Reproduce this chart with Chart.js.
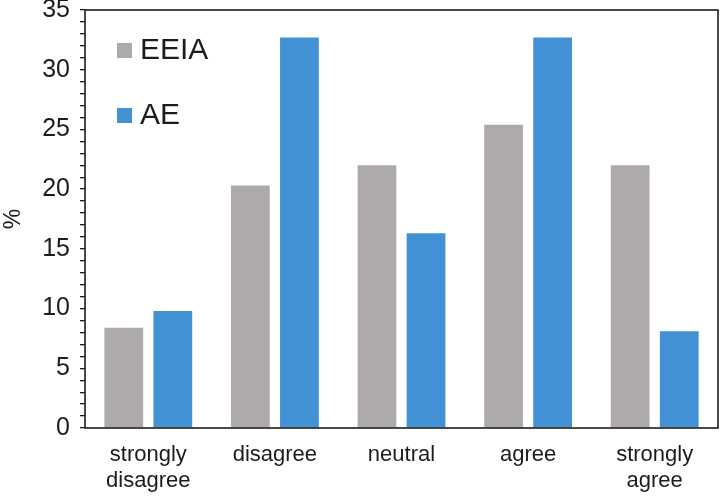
<!DOCTYPE html>
<html>
<head>
<meta charset="utf-8">
<script src="https://cdn.jsdelivr.net/npm/chart.js@4"></script>
<style>
  html, body { margin: 0; padding: 0; background: #fff; }
  #wrap { width: 723px; height: 496px; }
</style>
</head>
<body>
<div id="wrap"><canvas id="responseChart" width="723" height="496"></canvas></div>
<script>
const categories = [["strongly", "disagree"], "disagree", "neutral", "agree", ["strongly", "agree"]];
const eeiaValues = [8.4, 20.3, 22.0, 25.4, 22.0];
const aeValues = [9.8, 32.7, 16.3, 32.7, 8.1];
const yTicks = [0, 5, 10, 15, 20, 25, 30, 35];

const FONT = "'Liberation Sans', Arial, sans-serif";
const INK = "#1c1c1c";

// box around the plot area
const frame = {
  id: "frame",
  afterDraw(chart) {
    const { ctx, chartArea: a } = chart;
    ctx.save();
    ctx.strokeStyle = INK;
    ctx.lineWidth = 1.6;
    ctx.strokeRect(a.left, a.top, a.right - a.left, a.bottom - a.top);
    ctx.restore();
  },
};

// legend sits inside the plot, top-left
const insideLegend = {
  id: "insideLegend",
  afterDraw(chart) {
    const { ctx, chartArea: a } = chart;
    ctx.save();
    ctx.font = "30px " + FONT;
    ctx.textBaseline = "middle";
    chart.data.datasets.forEach((ds, i) => {
      const y = a.top + 33 + i * 65;
      ctx.fillStyle = ds.backgroundColor;
      ctx.fillRect(a.left + 32, y, 15, 15);
      ctx.fillStyle = INK;
      ctx.fillText(ds.label, a.left + 55, y + 8);
    });
    ctx.restore();
  },
};

const ctx = document.getElementById("responseChart");

new Chart(ctx, {
  type: "bar",
  data: {
    labels: categories,
    datasets: [
      {
        label: "EEIA",
        data: eeiaValues,
        backgroundColor: "#aeaaa9",
        barPercentage: 0.79,
        categoryPercentage: 0.775,
      },
      {
        label: "AE",
        data: aeValues,
        backgroundColor: "#4191d4",
        barPercentage: 0.79,
        categoryPercentage: 0.775,
      },
    ],
  },
  options: {
    responsive: false,
    animation: false,
    layout: { padding: { left: 0, right: 5, top: 10, bottom: 0 } },
    plugins: {
      legend: { display: false },
      tooltip: { enabled: false },
    },
    scales: {
      x: {
        grid: { display: false, drawTicks: false },
        border: { display: false },
        ticks: {
          color: INK,
          padding: 14,
          font: { family: FONT, size: 22, lineHeight: 1.19 },
          maxRotation: 0,
          autoSkip: false,
        },
        afterFit: (s) => {
          s.height = 496 - 428;
          s.paddingLeft = 0;
          s.paddingRight = 0;
        },
      },
      y: {
        min: 0,
        max: 35,
        afterBuildTicks: (s) => {
          const t = [];
          for (let v = 0; v <= 35; v++) t.push({ value: v });
          s.ticks = t;
        },
        ticks: {
          autoSkip: false,
          color: INK,
          padding: 10,
          font: { family: FONT, size: 25 },
          callback: (v) => (yTicks.includes(v) ? String(v) : ""),
        },
        grid: {
          drawOnChartArea: false,
          color: INK,
          lineWidth: 1.3,
          tickLength: 5,
        },
        border: { display: false },
        title: {
          display: true,
          text: "%",
          color: INK,
          font: { family: FONT, size: 23 },
          padding: { top: 0, bottom: 0 },
        },
        afterFit: (s) => {
          s.width = 85;
          s.paddingTop = 0;
          s.paddingBottom = 0;
        },
      },
    },
  },
  plugins: [frame, insideLegend],
});
</script>
</body>
</html>
